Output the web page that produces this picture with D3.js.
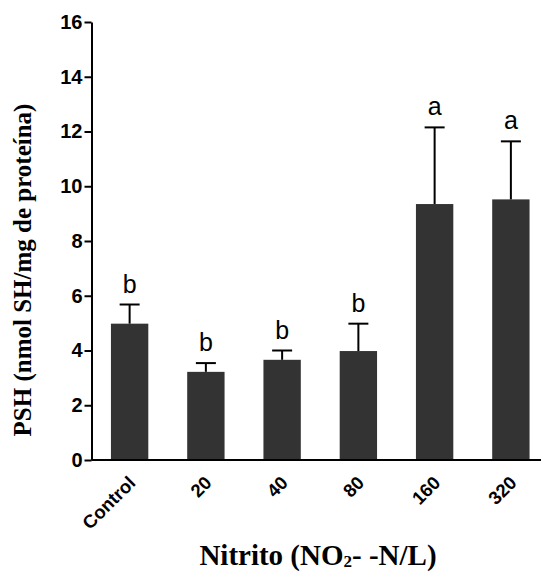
<!DOCTYPE html>
<html><head><meta charset="utf-8">
<script src="https://cdn.jsdelivr.net/npm/d3@7"></script>
<style>body{margin:0;background:#fff}svg{display:block}</style>
</head><body>
<script>
const categories = ["Control","20","40","80","160","320"];
const means = [4.98, 3.22, 3.66, 3.98, 9.35, 9.52];
const errors = [0.70, 0.32, 0.34, 1.00, 2.80, 2.12];
const letters = ["b","b","b","b","a","a"];
const yTicks = [0,2,4,6,8,10,12,14,16];

const W = 544, H = 573;
const svg = d3.select("body").append("svg").attr("width", W).attr("height", H);

const x = d3.scaleBand().domain(categories).range([91.5, 549]).paddingInner(0.51).paddingOuter(0.255);
const y = d3.scaleLinear().domain([0,16]).range([460, 22]);

// bars
svg.selectAll("rect.bar").data(categories).enter().append("rect")
  .attr("x", d => x(d)).attr("width", x.bandwidth())
  .attr("y", (d,i) => y(means[i])).attr("height", (d,i) => y(0) - y(means[i]))
  .attr("fill", "#333333");

// error bars
const g = svg.append("g").attr("stroke", "#000").attr("stroke-width", 2);
categories.forEach((c,i) => {
  const cx = x(c) + x.bandwidth()/2;
  g.append("line").attr("x1", cx).attr("x2", cx).attr("y1", y(means[i])).attr("y2", y(means[i]+errors[i]));
  g.append("line").attr("x1", cx-10).attr("x2", cx+10).attr("y1", y(means[i]+errors[i])).attr("y2", y(means[i]+errors[i]));
});

// letters
svg.selectAll("text.let").data(categories).enter().append("text")
  .attr("x", d => x(d) + x.bandwidth()/2)
  .attr("y", (d,i) => y(means[i]+errors[i]) - 12)
  .attr("text-anchor", "middle")
  .attr("font-family", "Arial, Liberation Sans, sans-serif")
  .attr("font-size", 25)
  .text((d,i) => letters[i]);

// y axis
const yAxis = d3.axisLeft(y).tickValues(yTicks).tickSize(7).tickSizeOuter(0).tickPadding(2);
const ya = svg.append("g").attr("transform", "translate(91.5,0)").call(yAxis);
ya.select(".domain").attr("stroke-width", 2).attr("stroke", "#000");
ya.selectAll(".tick line").attr("stroke-width", 2).attr("stroke", "#000");
ya.selectAll(".tick text").attr("font-family", "Arial, Liberation Sans, sans-serif")
  .attr("font-weight", "bold").attr("font-size", 20).attr("fill", "#000");

// x axis line
svg.append("line").attr("x1", 91.5).attr("x2", 541).attr("y1", 460).attr("y2", 460)
  .attr("stroke", "#000").attr("stroke-width", 2);

// x tick labels
svg.selectAll("text.xl").data(categories).enter().append("text")
  .attr("transform", d => `translate(${x(d) + x.bandwidth()/2 + 7},${484}) rotate(-45)`)
  .attr("text-anchor", "end")
  .attr("font-family", "Arial, Liberation Sans, sans-serif")
  .attr("font-weight", "bold").attr("font-size", 18.5)
  .text(d => d);

// y title
svg.append("text")
  .attr("transform", "translate(31,270) rotate(-90)")
  .attr("text-anchor", "middle")
  .attr("font-family", "Liberation Serif, Times New Roman, serif")
  .attr("font-weight", "bold").attr("font-size", 25)
  .text("PSH (nmol SH/mg de proteína)");

// x title
const xt = svg.append("text")
  .attr("x", 318).attr("y", 565)
  .attr("text-anchor", "middle")
  .attr("font-family", "Liberation Serif, Times New Roman, serif")
  .attr("font-weight", "bold").attr("font-size", 29);
xt.append("tspan").text("Nitrito (NO");
xt.append("tspan").attr("font-size", 17).attr("dy", 2).text("2");
xt.append("tspan").attr("dy", -2).text("- -N/L)");
</script>
</body></html>
